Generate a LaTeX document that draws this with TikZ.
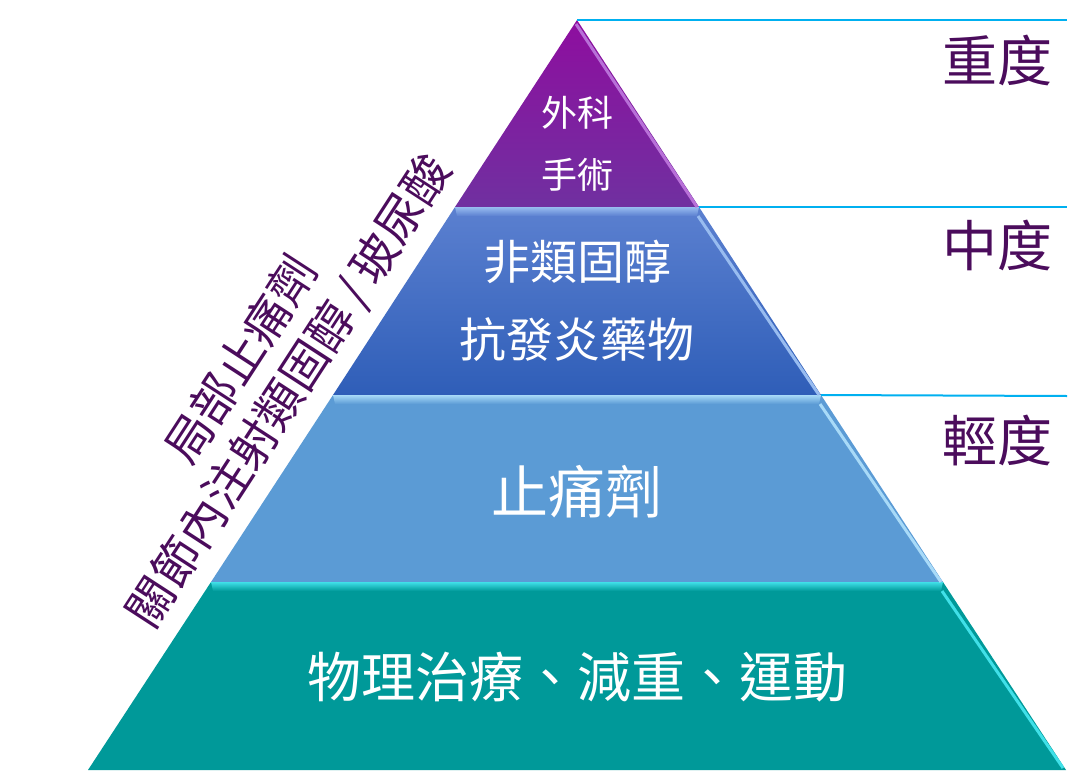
\documentclass[tikz,border=0pt]{standalone}
\usepackage{fontspec}
\newfontfamily\cjk{Noto Sans CJK TC}
\usetikzlibrary{positioning, calc}

\definecolor{surgtop}{HTML}{8E0E9F}
\definecolor{surgbot}{HTML}{7030A0}
\definecolor{surghi}{HTML}{B870D8}
\definecolor{nsaidtop}{HTML}{5B80D0}
\definecolor{nsaidbot}{HTML}{2F5EB8}
\definecolor{nsaidhi}{HTML}{98BCF0}
\definecolor{painfill}{HTML}{5B9BD5}
\definecolor{painhi}{HTML}{A8DAF8}
\definecolor{ptfill}{HTML}{009999}
\definecolor{pthi}{HTML}{40E0E8}
\definecolor{gradetext}{HTML}{4B0C5C}
\definecolor{sevline}{HTML}{00B0F0}

\begin{document}
\begin{tikzpicture}[x=1pt, y=-1pt,
    tiertext/.style 2 args={text=white, align=center, font=\cjk\fontsize{#1}{#2}\selectfont},
    gradelabel/.style={text=gradetext, font=\cjk\fontsize{55}{60}\selectfont},
    sidenote/.style={text=gradetext, align=center, rotate=57, font=\cjk\fontsize{47}{57}\selectfont},
    sevrule/.style={draw=sevline, line width=2pt},
    edgehi/.style={draw=#1, line width=3pt}]
    \useasboundingbox (0,0) rectangle (1091,773);

    \coordinate (apex) at (577,20);
    \coordinate (l1) at (455,207); \coordinate (r1) at (699,207);
    \coordinate (l2) at (333,395); \coordinate (r2) at (821,395);
    \coordinate (l3) at (211,582); \coordinate (r3) at (943,582);
    \coordinate (l4) at (88,770);  \coordinate (r4) at (1066,770);
    \coordinate (e0) at (1067,20);
    \coordinate (e1) at (1067,207);
    \coordinate (e2) at (1067,396);

    % tiers of the pyramid
    \shade[top color=surgtop, bottom color=surgbot] (apex) -- (r1) -- (l1) -- cycle;
    \shade[top color=nsaidtop, bottom color=nsaidbot] (l1) -- (r1) -- (r2) -- (l2) -- cycle;
    \fill[painfill] (l2) -- (r2) -- (r3) -- (l3) -- cycle;
    \fill[ptfill] (l3) -- (r3) -- (r4) -- (l4) -- cycle;

    % bevels
    \shade[top color=nsaidhi, bottom color=nsaidtop] (l1) -- (r1) -- ($(r1)+(-2,9)$) -- ($(l1)+(2,9)$) -- cycle;
    \shade[top color=painhi, bottom color=painfill] (l2) -- (r2) -- ($(r2)+(-2,9)$) -- ($(l2)+(2,9)$) -- cycle;
    \shade[top color=pthi, bottom color=ptfill] (l3) -- (r3) -- ($(r3)+(-2,9)$) -- ($(l3)+(2,9)$) -- cycle;
    \draw[edgehi=surghi] ($(apex)+(-1,4)$) -- ($(r1)+(-2,0)$);
    \draw[edgehi=nsaidhi] ($(r1)+(-1,9)$) -- ($(r2)+(-2,0)$);
    \draw[edgehi=painhi] ($(r2)+(-1,9)$) -- ($(r3)+(-2,0)$);
    \draw[edgehi=pthi] ($(r3)+(-1,9)$) -- ($(r4)+(-3,-2)$);

    % severity rules
    \draw[sevrule] (apex) -- (e0);
    \draw[sevrule] (r1) -- (e1);
    \draw[sevrule] (r2) -- (e2);

    \node[tiertext={36}{62}] (surg) at (577,144) {外科\\手術};
    \node[tiertext={47}{78}] (nsaid) at (577,301) {非類固醇\\抗發炎藥物};
    \node[tiertext={57}{60}] (pain) at (577,492) {止痛劑};
    \node[tiertext={54}{60}] (pt) at (577,677) {物理治療、減重、運動};

    \node[gradelabel] (severe) at (997,60) {重度};
    \node[gradelabel] (moderate) at (997,245) {中度};
    \node[gradelabel] (mild) at (997,440) {輕度};

    \node[sidenote] (inject) at (266,376) {局部止痛劑\\關節內注射類固醇\,/\,玻尿酸};
\end{tikzpicture}
\end{document}
